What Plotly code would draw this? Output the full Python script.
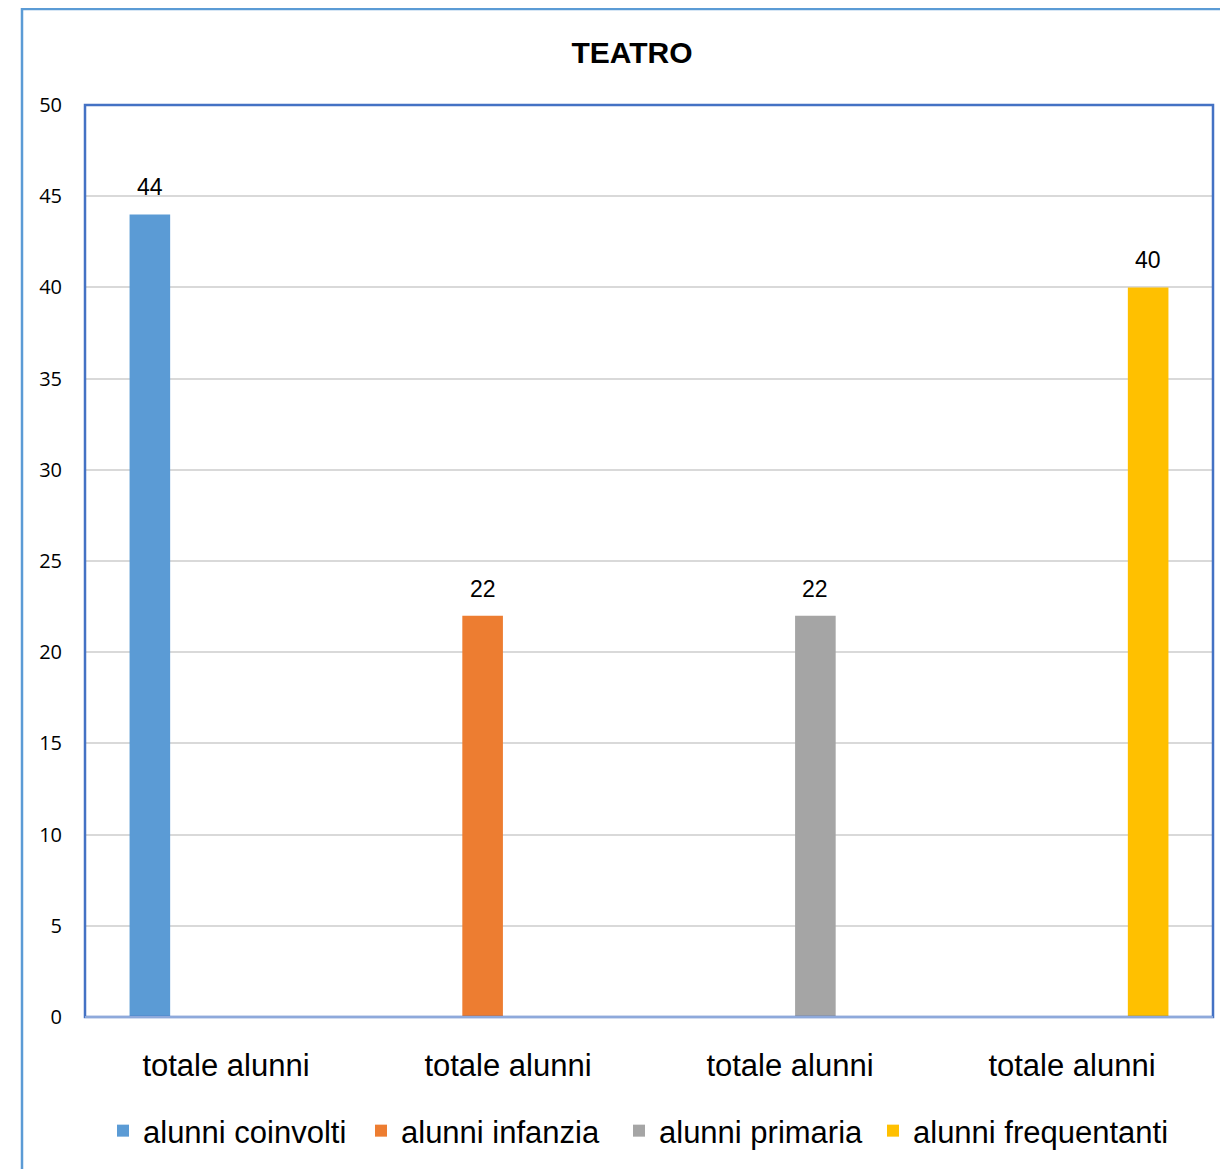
import plotly.graph_objects as go

categories = ["totale alunni", "totale alunni", "totale alunni", "totale alunni"]
series_names = ["alunni coinvolti", "alunni infanzia", "alunni primaria", "alunni frequentanti"]
coinvolti = [44, None, None, None]
infanzia = [None, 22, None, None]
primaria = [None, None, 22, None]
frequentanti = [None, None, None, 40]
colors = ["#5B9BD5", "#ED7D31", "#A5A5A5", "#FFC000"]
y_ticks = [0, 5, 10, 15, 20, 25, 30, 35, 40, 45, 50]

txt_font = "Liberation Sans, Arial, sans-serif"
x_pos = list(range(len(categories)))
all_series = [coinvolti, infanzia, primaria, frequentanti]
legend_ids = ["legend", "legend", "legend", "legend2"]

fig = go.Figure()
for name, vals, col, lg in zip(series_names, all_series, colors, legend_ids):
    fig.add_trace(go.Bar(
        x=x_pos, y=vals, name=name, marker=dict(color=col, line=dict(width=0)),
        legend=lg,
    ))

O = 8  # page body offset
W, H = 1228 - O, 1169 - O
L = 85 - O
T = 105 - O
R = W - (1213 - O)
B = H - (1018 - O)
pw, ph = W - L - R, H - T - B

def px_x(x):
    return (x - O - L) / pw

def px_y(y):
    return ((T + ph) - (y - O)) / ph

bargap, bargroupgap = 0.28, 0.2
n_series = len(all_series)
slot = (1 - bargap) / n_series

# data labels above each bar, placed in data coordinates
for s, vals in enumerate(all_series):
    for i, v in enumerate(vals):
        if v is None:
            continue
        xc = x_pos[i] - (1 - bargap) / 2 + slot * (s + 0.5)
        fig.add_annotation(x=xc, y=v, xref="x", yref="y", text=str(v), showarrow=False,
                           yanchor="middle", yshift=27,
                           font=dict(family=txt_font, size=23, color="#000000"))

legend_common = dict(
    orientation="h", yanchor="middle", y=px_y(1131), xanchor="left",
    font=dict(family=txt_font, size=31, color="#000000"),
    itemwidth=30, traceorder="normal", bgcolor="rgba(0,0,0,0)",
)

fig.update_layout(
    width=W, height=H,
    margin=dict(l=L, r=R, t=T, b=B),
    paper_bgcolor="white", plot_bgcolor="white",
    barmode="group", bargap=bargap, bargroupgap=bargroupgap,
    title=dict(text="<b>TEATRO</b>", x=(632 - O) / W, xanchor="center",
               y=1 - (52 - O) / H, yanchor="middle",
               font=dict(family=txt_font, size=30, color="#000000")),
    xaxis=dict(
        tickmode="array", tickvals=x_pos, ticktext=categories,
        range=[-0.5, len(categories) - 0.5],
        showgrid=False, zeroline=False, showline=False, ticks="",
        ticklabelstandoff=27,
        tickfont=dict(family=txt_font, size=31, color="#000000"),
    ),
    yaxis=dict(
        range=[0, 50], tickmode="array", tickvals=y_ticks,
        showgrid=True, gridcolor="#D9D9D9", gridwidth=1.5,
        zeroline=False, showline=False, ticks="", ticklabelstandoff=22,
        tickfont=dict(family="Open Sans, Noto Sans, sans-serif", size=20, color="#000000"),
    ),
    legend=dict(**legend_common, x=px_x(103), entrywidth=213, entrywidthmode="pixels"),
    legend2=dict(**legend_common, x=px_x(873)),
    showlegend=True,
)

# plot-area border
fig.add_shape(type="rect", xref="paper", yref="paper", x0=0, y0=0, x1=1, y1=1,
              line=dict(color="#4472C4", width=2.5), layer="above")
# bottom axis line
fig.add_shape(type="line", xref="paper", yref="paper", x0=0, y0=0, x1=1, y1=0,
              line=dict(color="#8EA9DB", width=2), layer="above")
# outer chart border
fig.add_shape(type="rect", xref="paper", yref="paper",
              x0=px_x(22), x1=px_x(1250),
              y0=px_y(1200), y1=px_y(9),
              line=dict(color="#5B9BD5", width=2.5), layer="below")

fig.write_html("out.html")
